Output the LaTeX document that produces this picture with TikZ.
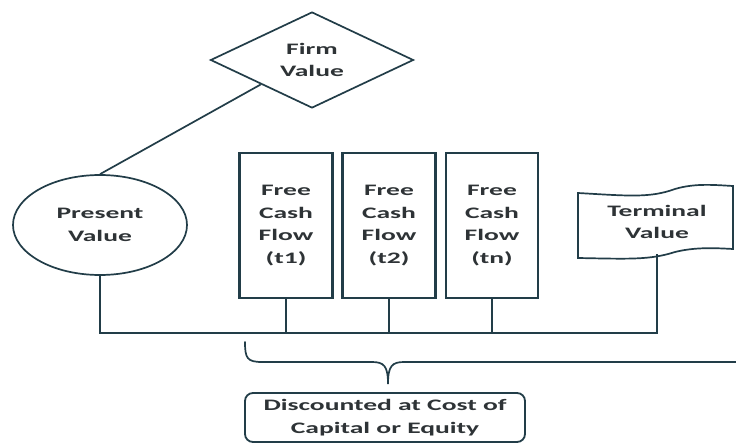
\documentclass[tikz,border=0pt]{standalone}
\usepackage{fontspec}
\usetikzlibrary{shapes.geometric}
\newfontfamily\lblfont[FakeStretch=1.72]{Carlito}
\definecolor{ink}{HTML}{223D48}
\definecolor{txt}{HTML}{2E3336}
\begin{document}
\begin{tikzpicture}[x=1pt,y=-1pt,
  lbl/.style={font=\lblfont\bfseries\fontsize{16}{22.5}\selectfont,text=txt,align=center,inner sep=0pt},
  shp/.style={draw=ink,line width=1.7pt,fill=white},
  cash/.style={shp,line width=2.6pt,minimum width=93pt,minimum height=145pt},
  link/.style={draw=ink,line width=1.7pt}]
\useasboundingbox (0,0) rectangle (736,444);
\fill[white] (0,0) rectangle (736,444);

% top of the tree
\node[lbl,shp,diamond,shape aspect=2,minimum width=203pt,minimum height=96pt] (firm) at (312,60) {Firm\\Value};
\node[lbl,shp,ellipse,minimum width=174pt,minimum height=100pt] (pv) at (100,225) {Present\\Value};
\draw[link] (firm.south west) -- (pv.north);

% cash flow boxes
\node[lbl,cash] (fcf1) at (286,225.5) {Free\\Cash\\Flow\\(t1)};
\node[lbl,cash] (fcf2) at (389,225.5) {Free\\Cash\\Flow\\(t2)};
\node[lbl,cash,minimum width=92pt] (fcf3) at (492,225.5) {Free\\Cash\\Flow\\(tn)};

% terminal value banner
\draw[shp] (578,193) .. controls (630,196) and (650,198) .. (675,189)
  .. controls (695,183) and (715,185) .. (733,186) -- (733,249)
  .. controls (715,248) and (695,247) .. (675,252)
  .. controls (650,260) and (630,259) .. (578,258) -- cycle;
\node[lbl] (tv) at (657,222) {Terminal\\Value};
\coordinate (tvb) at (657,254);

% collecting line
\coordinate (busL) at (100,333);
\coordinate (busR) at (657,333);
\draw[link] (pv.south) -- (busL) -- (busR) -- (tvb);
\foreach \n in {fcf1,fcf2,fcf3}
  \draw[link] (\n.south) -- (\n.south |- busL);

% brace
\coordinate (brL) at (245,342);
\coordinate (brT) at (388,384);
\coordinate (brR) at (760,342);
\draw[link,line cap=round] (brL) .. controls (245,358) and (247,362) .. (262,362)
  -- (372,362) .. controls (384,362) and (388,366) .. (brT)
  .. controls (388,366) and (392,362) .. (404,362) -- (744,362)
  .. controls (758,362) and (760,358) .. (brR);

% discount rate
\node[lbl,draw=ink,line width=1.8pt,rounded corners=8pt,minimum width=280pt,minimum height=49pt] (disc) at (385,417.5) {Discounted at Cost of\\Capital or Equity};
\end{tikzpicture}
\end{document}
